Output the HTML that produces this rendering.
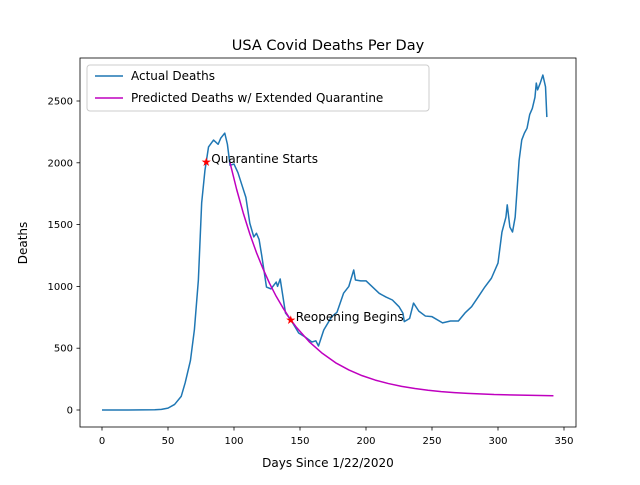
<!DOCTYPE html>
<html><head><meta charset="utf-8"><style>
body{margin:0;background:#fff;width:640px;height:480px;overflow:hidden}
svg{font-family:"DejaVu Sans","Liberation Sans",sans-serif}
</style></head><body>
<svg id="chart" width="640" height="480" viewBox="0 0 640 480"></svg>
<script>
const actualDays=[0,20,40,45,50,55,60,63,67,70,73,75.5,78,80.7,84.5,88,90,93,95,97,100,103,106,109,112,115,117,119,121,124.6,128,132,133,135,139,143,149,154,159,162,164,168,174,178,183,187,190.7,192,196,200,205,210,215,220,225,228,229,233,236,240,245,250,258,264,270,275,280,285,290,295,300,303,306,307,309,311,313,316,318,320,322,324,326,328,329,330,332,334,336,337];
const actualVals=[0,0,2,5,15,45,110,220,400,650,1050,1675,1940,2128,2184,2150,2200,2240,2150,1980,1990,1920,1820,1720,1510,1400,1430,1380,1250,995,980,1035,1000,1060,785,730,623,590,550,560,518,647,755,790,945,1000,1133,1052,1045,1045,995,944,915,890,836,783,715,740,865,800,760,755,705,720,720,785,836,915,995,1066,1189,1440,1560,1660,1480,1440,1560,2020,2185,2240,2280,2390,2440,2530,2645,2590,2645,2710,2615,2370];
const predDays=[97,102,107,112,117,122,127,132,137,142,147,157,167,177,187,197,207,217,227,237,247,257,267,277,297,342];
const predVals=[2000,1785,1594,1424,1274,1142,1023,919,828,745,673,552,458,382,324,278,242,214,191,174,160,149,141,135,125,115];
const xTicks=[0,50,100,150,200,250,300,350];
const yTicks=[0,500,1000,1500,2000,2500];
const markerDays=[79,143];
const markerVals=[2006,730];
const markerLabels=["Quarantine Starts","Reopening Begins"];

const L=80,R=576,T=58,B=427;
const X=d=>102+d*1.32;
const Y=v=>410-v*0.1236;
const svg=document.getElementById('chart');
const NS='http://www.w3.org/2000/svg';
function mk(tag,attrs,parent){const e=document.createElementNS(NS,tag);for(const k in attrs)e.setAttribute(k,attrs[k]);(parent||svg).appendChild(e);return e;}

const frame=mk('rect',{x:L,y:T,width:R-L,height:B-T,fill:'none',stroke:'#000','stroke-width':0.8});



xTicks.forEach(t=>{
  const tk=mk('line',{x1:X(t),x2:X(t),y1:B,y2:B+3.5,stroke:'#000','stroke-width':0.8});
  
  
  const tx=mk('text',{x:X(t),y:B+17,'text-anchor':'middle','font-size':10});
  tx.textContent=t;
  
  
});
yTicks.forEach(t=>{
  const tk=mk('line',{x1:L-3.5,x2:L,y1:Y(t),y2:Y(t),stroke:'#000','stroke-width':0.8});
  
  
  const tx=mk('text',{x:L-7,y:Y(t)+3.5,'text-anchor':'end','font-size':10});
  tx.textContent=t;
  
  
});

const actual=mk('polyline',{points:actualDays.map((d,i)=>X(d)+','+Y(actualVals[i])).join(' '),fill:'none',stroke:'#1f77b4','stroke-width':1.5,'stroke-linejoin':'round'});


const pred=mk('polyline',{points:predDays.map((d,i)=>X(d)+','+Y(predVals[i])).join(' '),fill:'none',stroke:'#bf00bf','stroke-width':1.5,'stroke-linejoin':'round'});



markerDays.forEach((d,i)=>{
  const s=mk('text',{x:X(d),y:Y(markerVals[i])+4,'text-anchor':'middle','font-size':12,fill:'red'});
  s.textContent='★';
  
  
  const t=mk('text',{x:X(d)+5,y:Y(markerVals[i])+1,'font-size':12});
  t.textContent=markerLabels[i];
  
  
});

const title=mk('text',{x:328,y:50,'text-anchor':'middle','font-size':14.5});
title.textContent='USA Covid Deaths Per Day';


const xl=mk('text',{x:328,y:467,'text-anchor':'middle','font-size':12});
xl.textContent='Days Since 1/22/2020';


const yl=mk('text',{x:27,y:243,'text-anchor':'middle','font-size':12,transform:'rotate(-90 27 243)'});
yl.textContent='Deaths';



const lg=mk('g',{});


mk('rect',{x:87,y:65,width:342,height:46,rx:3,fill:'#fff',stroke:'#ccc','stroke-width':1},lg);
const e1=mk('line',{x1:95,x2:123,y1:76,y2:76,stroke:'#1f77b4','stroke-width':1.5},lg);


const t1=mk('text',{x:131,y:80,'font-size':12},lg);t1.textContent='Actual Deaths';


const e2=mk('line',{x1:95,x2:123,y1:98,y2:98,stroke:'#bf00bf','stroke-width':1.5},lg);


const t2=mk('text',{x:131,y:102,'font-size':12},lg);t2.textContent='Predicted Deaths w/ Extended Quarantine';


</script>
</body></html>
